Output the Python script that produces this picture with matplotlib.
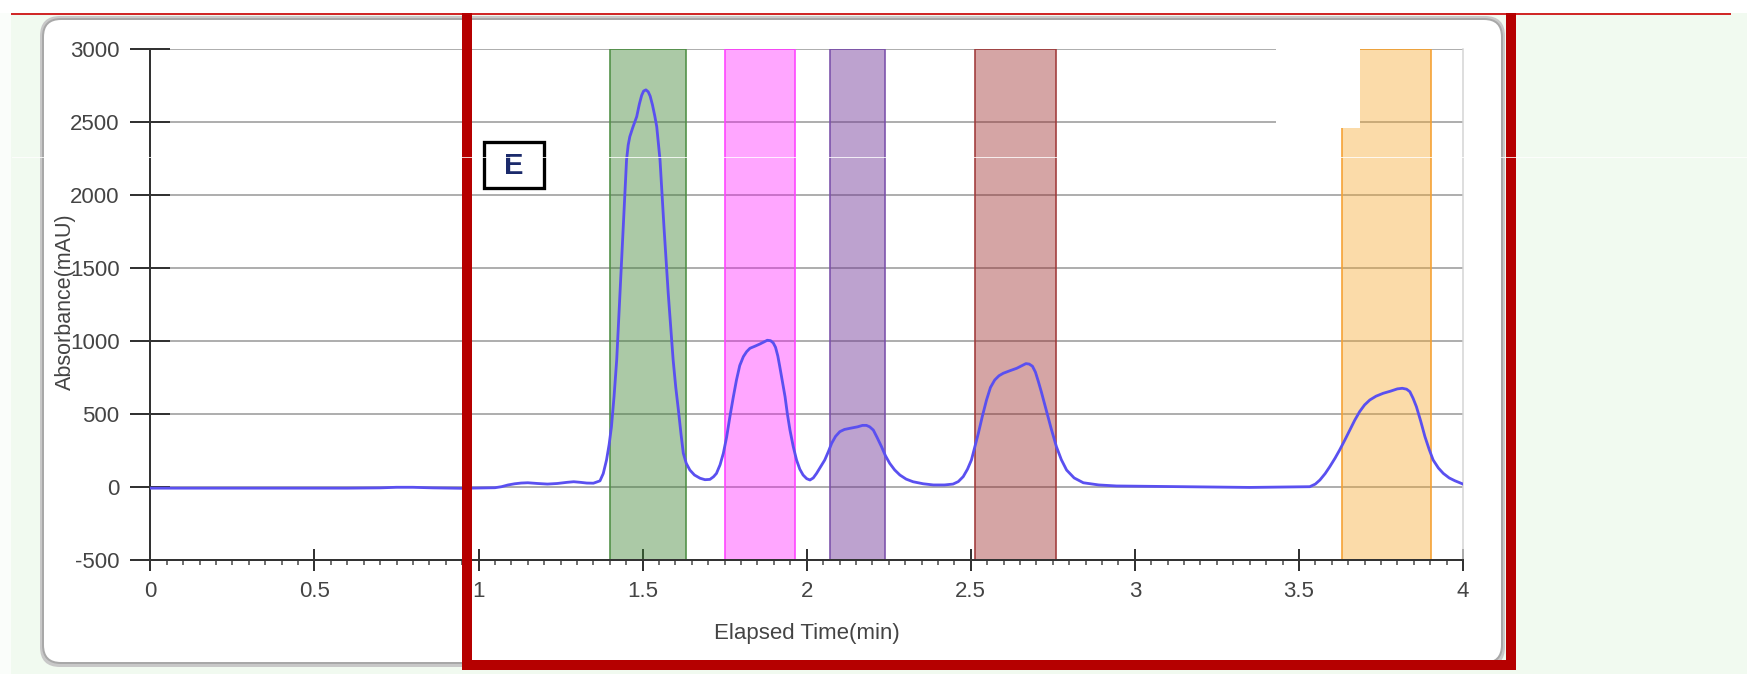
"""Chromatogram screenshot: UV trace with fraction windows (panel E)."""

import matplotlib

matplotlib.use("Agg")
import matplotlib.pyplot as plt
from matplotlib.colors import to_rgba
from matplotlib.lines import Line2D
from matplotlib.patches import FancyBboxPatch, Rectangle
from matplotlib.ticker import MultipleLocator
from matplotlib.transforms import IdentityTransform

plt.rcParams["font.family"] = ["Liberation Sans", "DejaVu Sans"]

W, H = 1747, 674

# trace (min, mAU)
time_min = [
    0.00, 0.20, 0.40, 0.60, 0.70, 0.75, 0.80, 0.86, 0.95, 1.05,
    1.07, 1.09, 1.11, 1.13, 1.15, 1.18, 1.21, 1.24, 1.27, 1.29,
    1.31, 1.33, 1.35, 1.37, 1.38, 1.39,
    # peak 1
    1.398, 1.405, 1.413, 1.421, 1.431, 1.441, 1.451, 1.456, 1.461, 1.470,
    1.482, 1.490, 1.497, 1.503, 1.510, 1.517, 1.523, 1.530, 1.537, 1.543,
    1.553, 1.565, 1.578, 1.593, 1.601, 1.609, 1.617, 1.624, 1.633, 1.644,
    1.658, 1.675, 1.690, 1.705, 1.716, 1.725, 1.736, 1.746,
    # peak 2
    1.756, 1.766, 1.776, 1.786, 1.796, 1.807, 1.817, 1.827, 1.842, 1.857,
    1.870, 1.880, 1.890, 1.898, 1.905, 1.912, 1.918, 1.926, 1.934, 1.941,
    1.949, 1.959, 1.969, 1.979, 1.989, 2.000, 2.010, 2.020, 2.030,
    # peak 3
    2.042, 2.055, 2.066, 2.076, 2.088, 2.101, 2.115, 2.132, 2.155, 2.170,
    2.182, 2.192, 2.203, 2.215, 2.228, 2.240, 2.253, 2.268, 2.284, 2.303,
    2.324, 2.355, 2.386, 2.420, 2.446, 2.462, 2.477, 2.490, 2.502,
    # peak 4
    2.512, 2.523, 2.535, 2.548, 2.560, 2.573, 2.586, 2.599, 2.620, 2.640,
    2.655, 2.668, 2.678, 2.688, 2.697, 2.706, 2.715, 2.731, 2.746, 2.761,
    2.776, 2.792, 2.815, 2.843, 2.890, 2.944, 3.150, 3.350, 3.533,
    # peak 5
    3.550, 3.564, 3.580, 3.594, 3.610, 3.624, 3.640, 3.655, 3.670, 3.685,
    3.700, 3.716, 3.735, 3.757, 3.780, 3.800, 3.815, 3.828, 3.838, 3.848,
    3.858, 3.871, 3.884, 3.897, 3.909, 3.925, 3.940, 3.958, 3.975, 3.990,
    4.000,
]
absorbance = [
    -10, -10, -10, -10, -8, -4, -4, -8, -11, -7,
    0, 12, 20, 25, 27, 22, 18, 22, 30, 34,
    30, 25, 24, 40, 90, 183,
    290, 411, 620, 868, 1325, 1781, 2238, 2340, 2398, 2460,
    2535, 2620, 2680, 2710, 2718, 2705, 2675, 2615, 2540, 2466,
    2238, 1781, 1325, 868, 680, 525, 360, 229, 160, 114,
    80, 58, 48, 50, 68, 91, 150, 229,
    340, 480, 610, 731, 830, 891, 925, 948, 962, 977,
    992, 1003, 1000, 985, 955, 895, 822, 720, 617, 500,
    388, 275, 183, 120, 80, 55, 46, 60, 91,
    135, 183, 240, 297, 345, 377, 392, 400, 410, 420,
    420, 410, 388, 335, 274, 212, 160, 115, 80, 52,
    34, 20, 12, 12, 18, 35, 69, 120, 183,
    270, 365, 480, 594, 680, 731, 760, 777, 795, 811,
    828, 843, 840, 825, 785, 720, 650, 515, 390, 274,
    185, 114, 60, 27, 12, 5, 0, -5, 0,
    18, 46, 90, 137, 195, 251, 320, 388, 455, 514,
    560, 594, 620, 640, 655, 670, 674, 668, 651, 605,
    548, 450, 343, 255, 183, 128, 91, 60, 41, 27,
    18,
]

# collected fraction windows (min)
frac_start = [1.400, 1.751, 2.071, 2.514, 3.630]
frac_end = [1.632, 1.965, 2.240, 2.761, 3.904]
frac_base = ["#3c8232", "#ff00ff", "#6e3296", "#961e1e", "#f5a528"]
frac_alpha = [0.43, 0.35, 0.45, 0.40, 0.40]
frac_edge = ["#4f8f45", "#ff40ff", "#7a50aa", "#a03a3a", "#f5a030"]

x_ticks = [0, 0.5, 1, 1.5, 2, 2.5, 3, 3.5, 4]
x_labels = ["0", "0.5", "1", "1.5", "2", "2.5", "3", "3.5", "4"]
y_ticks = [-500, 0, 500, 1000, 1500, 2000, 2500, 3000]
y_labels = ["-500", "0", "500", "1000", "1500", "2000", "2500", "3000"]

PX = 0.72  # points per pixel at dpi 100
TXT = "#444444"


def px_rect(x0, y_top, x1, y_bot, **kw):
    """Rectangle from screenshot pixel coords (origin top-left)."""
    return Rectangle((x0, H - y_bot), x1 - x0, y_bot - y_top,
                     transform=IdentityTransform(), **kw)


def px_line(xs, ys, **kw):
    return Line2D(xs, [H - y for y in ys], transform=IdentityTransform(), **kw)


fig = plt.figure(figsize=(W / 100, H / 100), dpi=100)
fig.patch.set_facecolor("#f1faf0")

# page chrome
fig.add_artist(px_rect(0, 0, W, 13, facecolor="white", edgecolor="none", zorder=-5))
fig.add_artist(px_rect(0, 13, 11, H, facecolor="#fafdfa", edgecolor="none", zorder=-5))
fig.add_artist(px_line([12, 1730], [14, 14], color="#d02828", lw=2 * PX, zorder=-4))

# white rounded panel with soft grey edge
shadow = FancyBboxPatch((40, H - 667), 1465, 651,
                        boxstyle="round,pad=0,rounding_size=20",
                        transform=IdentityTransform(), facecolor="#c8c8c8",
                        edgecolor="none", zorder=-3)
fig.add_artist(shadow)
panel = FancyBboxPatch((43, H - 663), 1459, 644,
                       boxstyle="round,pad=0,rounding_size=18",
                       transform=IdentityTransform(), facecolor="white",
                       edgecolor="#a8a8a8", lw=2 * PX, zorder=-2)
fig.add_artist(panel)

# axes placed on the plot area of the screenshot
x0_px, x4_px = 150.4, 1463.0
ytop_px, ybot_px = 48.7, 559.7
ax = fig.add_axes([x0_px / W, (H - ybot_px) / H,
                   (x4_px - x0_px) / W, (ybot_px - ytop_px) / H])
ax.set_facecolor("none")
ax.set_xlim(0, 4)
ax.set_ylim(-500, 3000)

ax.set_axisbelow(True)
ax.yaxis.grid(True, color="#9c9c9c", lw=1.6 * PX)

for s, e, c, a, ec in zip(frac_start, frac_end, frac_base, frac_alpha, frac_edge):
    ax.axvspan(s, e, facecolor=to_rgba(c, a), edgecolor=ec, lw=1.6 * PX, zorder=2)

# blank legend placeholder that hides the top-right corner
ax.add_patch(Rectangle((3.43, 2455), 0.257, 700, facecolor="white",
                       edgecolor="none", clip_on=False, zorder=3))

ax.plot(time_min, absorbance, color="#5a50f0", lw=2.8 * PX, zorder=4,
        solid_joinstyle="round")

ax.spines["top"].set_visible(False)
ax.spines["right"].set_color("#d4d4d4")
ax.spines["right"].set_linewidth(1.5 * PX)
for side in ("left", "bottom"):
    ax.spines[side].set_color("#333333")
    ax.spines[side].set_linewidth(2 * PX)

ax.set_xticks(x_ticks)
ax.set_xticklabels(x_labels)
ax.set_yticks(y_ticks)
ax.set_yticklabels(y_labels)
ax.xaxis.set_minor_locator(MultipleLocator(0.05))

ax.tick_params(axis="x", which="major", direction="inout", length=22 * PX,
               width=2 * PX, color="#333333", pad=10 * PX,
               labelsize=16, labelcolor=TXT)
ax.tick_params(axis="x", which="minor", direction="out", length=5 * PX,
               width=1.5 * PX, color="#444444")
ax.tick_params(axis="y", which="major", direction="inout", length=40 * PX,
               width=2 * PX, color="#333333", pad=11 * PX,
               labelsize=16, labelcolor=TXT)

ax.set_xlabel("Elapsed Time(min)", fontsize=16, color=TXT)
ax.xaxis.set_label_coords(0.5, (ybot_px - 633) / (ybot_px - ytop_px))
ax.xaxis.label.set_va("center")
ax.set_ylabel("Absorbance(mAU)", fontsize=15.5, color=TXT)
ax.yaxis.set_label_coords((65 - x0_px) / (x4_px - x0_px), (ybot_px - 302) / (ybot_px - ytop_px))
ax.yaxis.label.set_va("center")

# panel tag "E"
fig.add_artist(px_rect(484, 142, 544, 188, facecolor="white", edgecolor="black",
                       lw=3.3 * PX, zorder=6))
fig.text(514 / W, (H - 166) / H, "E", fontsize=21, fontweight="bold",
         color="#1b2a6b", ha="center", va="center", zorder=7)

# red highlight frame
fig.add_artist(px_line([467, 467, 1511, 1511], [13, 665, 665, 13],
                       color="#b50000", lw=10 * PX, zorder=8,
                       solid_joinstyle="miter", solid_capstyle="butt"))

# faint white scan artefact across the screenshot
fig.add_artist(px_line([12, W], [156.5, 156.5], color="white", lw=1 * PX,
                       alpha=0.8, zorder=9))

fig.savefig("out.png", dpi=100, facecolor=fig.get_facecolor())
